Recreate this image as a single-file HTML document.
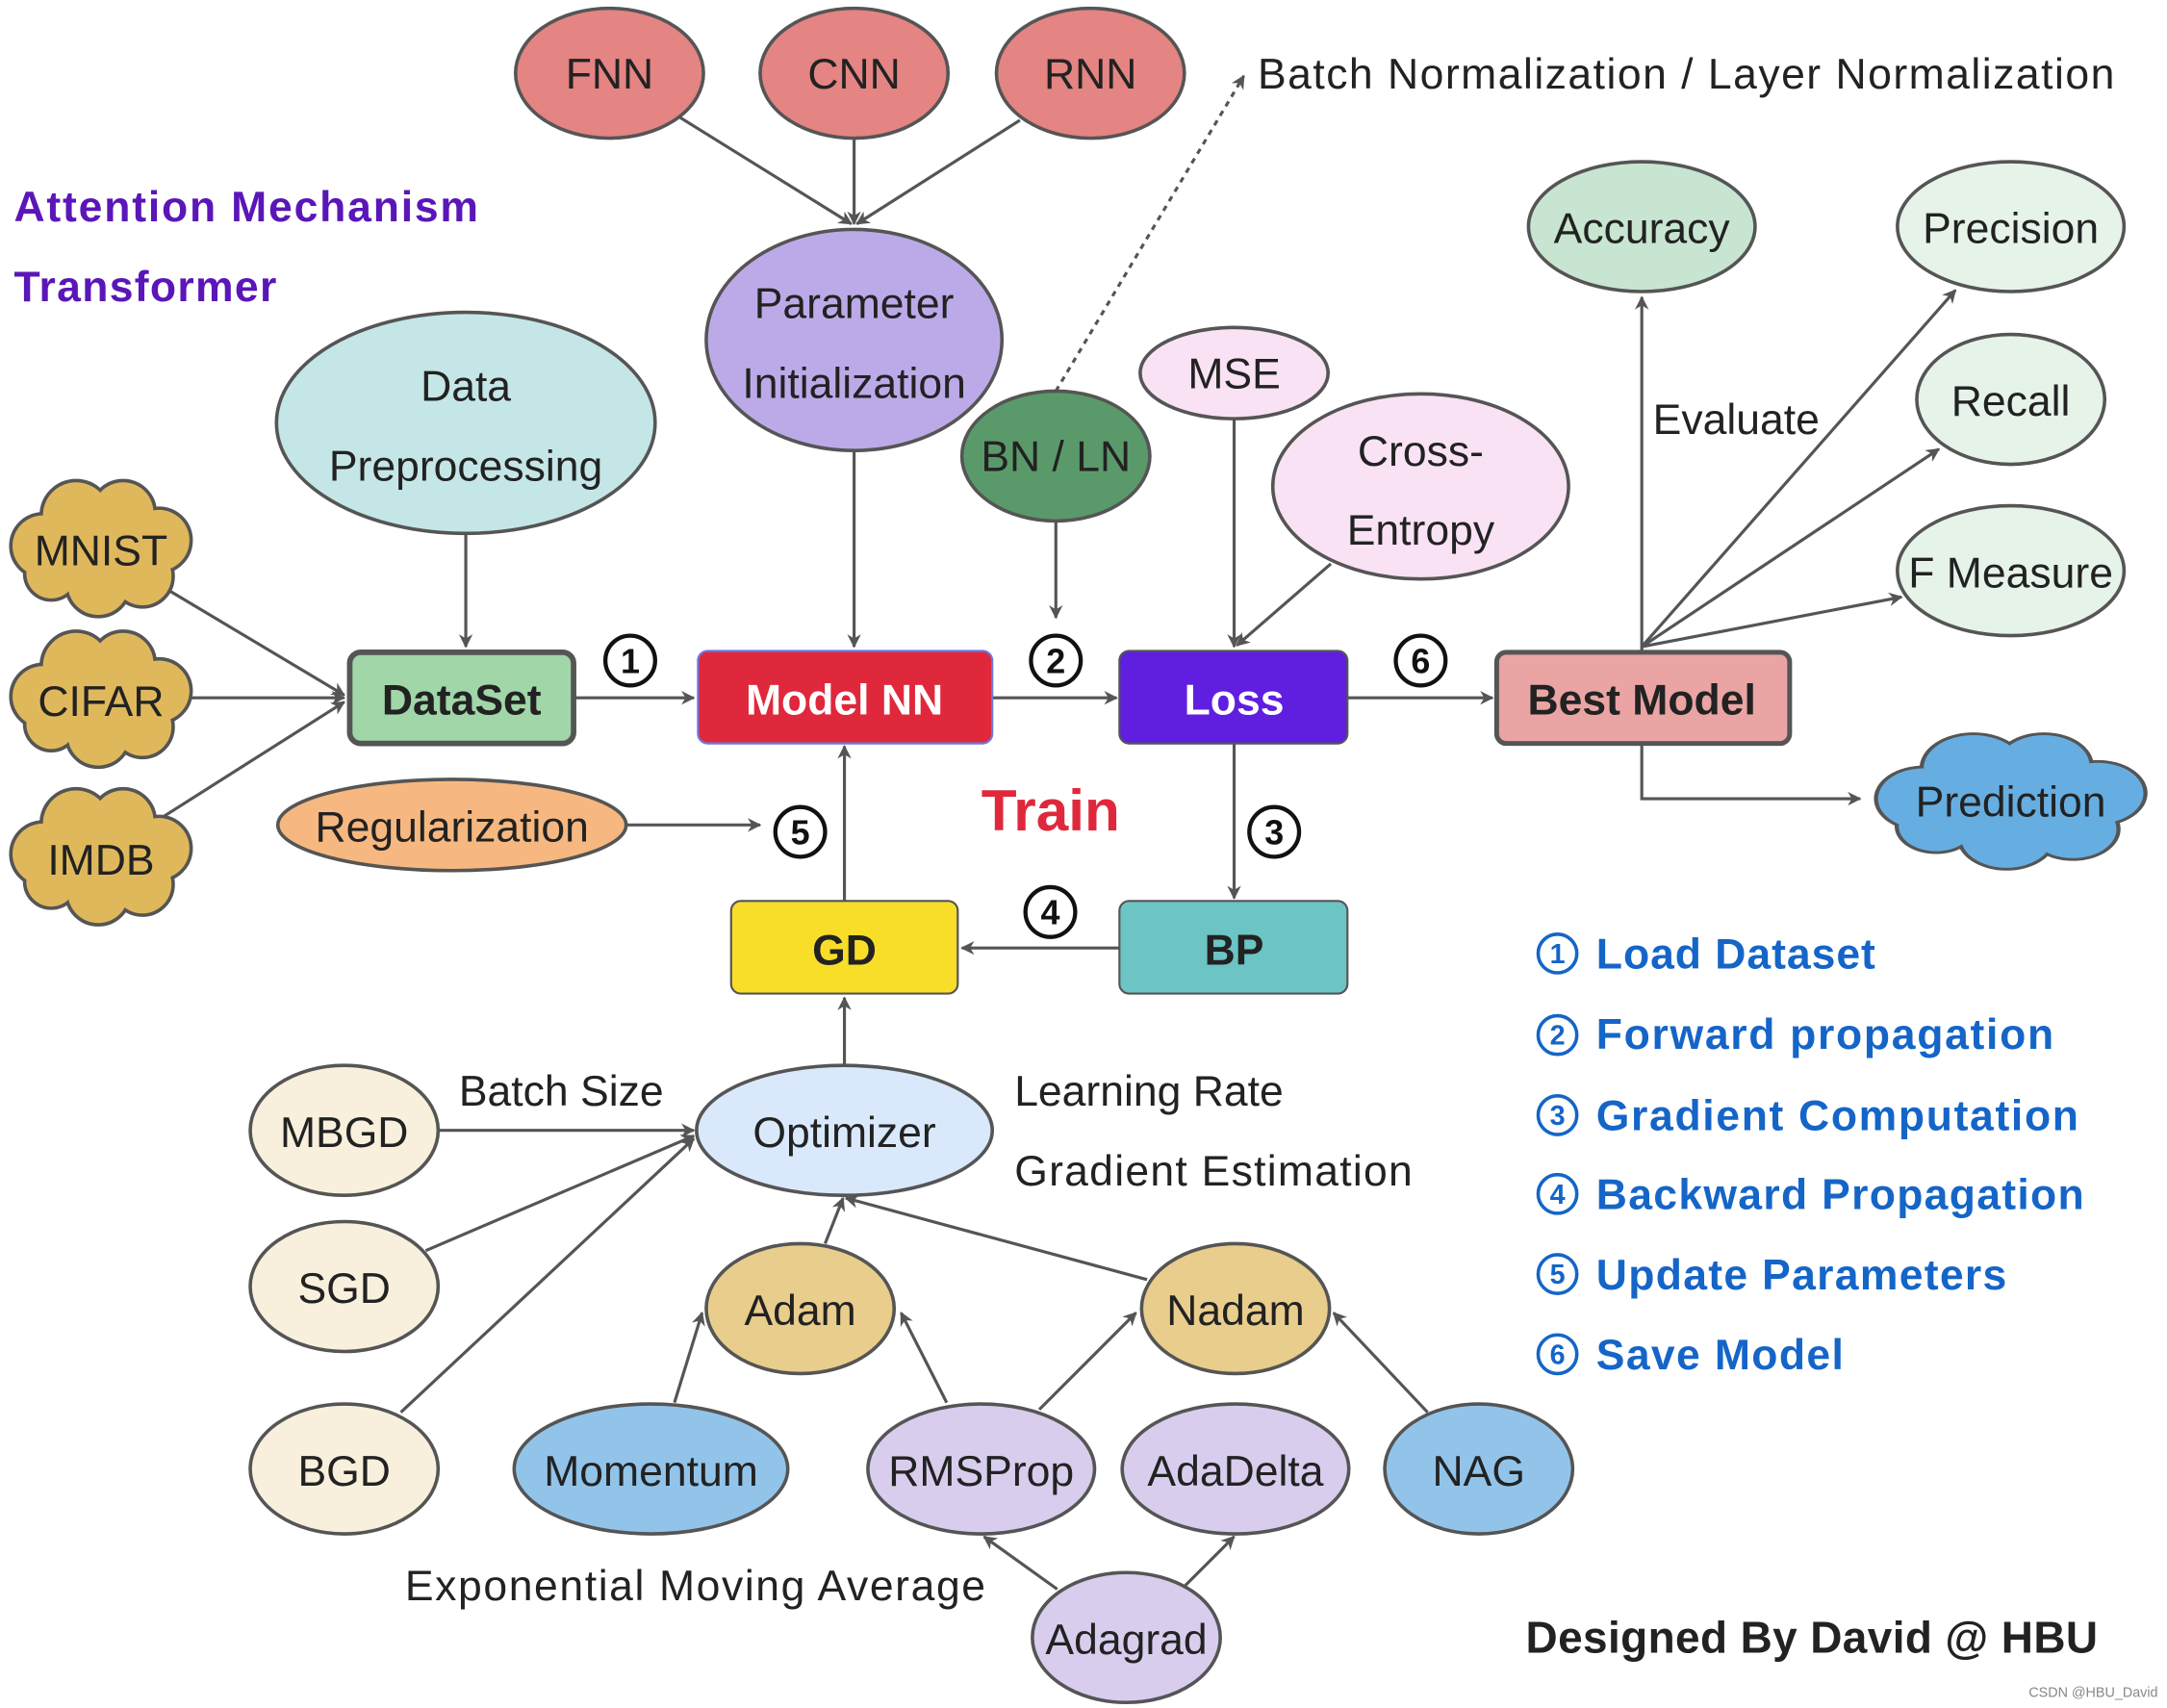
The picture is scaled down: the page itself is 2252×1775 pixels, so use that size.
<!DOCTYPE html>
<html><head><meta charset="utf-8"><style>
html,body{margin:0;padding:0;background:#fff;}
svg{display:block;}
text{font-family:"Liberation Sans","DejaVu Sans",sans-serif;}
</style></head><body>
<svg width="2252" height="1775" viewBox="0 0 1568 1236" xmlns="http://www.w3.org/2000/svg">
<defs>
<marker id="ah" markerWidth="10" markerHeight="10" refX="9" refY="5" orient="auto" markerUnits="userSpaceOnUse" viewBox="0 0 10 10">
<path d="M0,0 L10,5 L0,10 L3,5 z" fill="#555"/>
</marker>
<marker id="ah2" markerWidth="14" markerHeight="14" refX="13" refY="7" orient="auto" markerUnits="userSpaceOnUse" viewBox="0 0 14 14">
<path d="M0,0 L14,7 L0,14 L4,7 z" fill="#555"/>
</marker>
<g id="cloudO">
<circle cx="-42" cy="-2" r="22"/><circle cx="-18" cy="-24" r="24"/><circle cx="16" cy="-26" r="22"/><circle cx="42" cy="-6" r="22"/><circle cx="30" cy="20" r="21"/><circle cx="-2" cy="26" r="22"/><circle cx="-36" cy="18" r="18"/><circle cx="0" cy="0" r="30"/>
</g>
</defs>
<rect width="1568" height="1236" fill="#fff"/>

<!-- connectors -->
<g stroke="#555" stroke-width="2.2" fill="none" marker-end="url(#ah)">
<line x1="492" y1="85" x2="616" y2="162"/>
<line x1="618" y1="100" x2="618" y2="162"/>
<line x1="738" y1="87" x2="620" y2="162"/>
<line x1="618" y1="326" x2="618" y2="468"/>
<line x1="337" y1="386" x2="337" y2="468"/>
<line x1="120" y1="426" x2="249" y2="503"/>
<line x1="135" y1="505" x2="249" y2="505"/>
<line x1="115" y1="593" x2="249" y2="508"/>
<line x1="415" y1="505" x2="502" y2="505"/>
<line x1="718" y1="505" x2="808" y2="505"/>
<line x1="764" y1="377" x2="764" y2="447"/>
<line x1="893" y1="303" x2="893" y2="468"/>
<line x1="963" y1="408" x2="895" y2="467"/>
<line x1="975" y1="505" x2="1080" y2="505"/>
<line x1="893" y1="538" x2="893" y2="650"/>
<line x1="810" y1="686" x2="696" y2="686"/>
<line x1="611" y1="652" x2="611" y2="540"/>
<line x1="453" y1="597" x2="550" y2="597"/>
<line x1="611" y1="770" x2="611" y2="722"/>
<line x1="317" y1="818" x2="502" y2="818"/>
<line x1="308" y1="905" x2="502" y2="822"/>
<line x1="290" y1="1022" x2="502" y2="824"/>
<line x1="597" y1="900" x2="610" y2="867"/>
<line x1="830" y1="926" x2="612" y2="867"/>
<line x1="488" y1="1015" x2="508" y2="950"/>
<line x1="685" y1="1015" x2="652" y2="950"/>
<line x1="752" y1="1020" x2="822" y2="950"/>
<line x1="1033" y1="1022" x2="965" y2="950"/>
<line x1="765" y1="1150" x2="712" y2="1112"/>
<line x1="855" y1="1150" x2="893" y2="1112"/>
<line x1="1188" y1="472" x2="1188" y2="215"/>
<line x1="1188" y1="468" x2="1415" y2="210"/>
<line x1="1188" y1="468" x2="1403" y2="325"/>
<line x1="1188" y1="468" x2="1376" y2="432"/>
<polyline points="1188,538 1188,578 1346,578"/>
<line x1="764" y1="283" x2="900" y2="55" stroke-dasharray="4,4"/>
</g>

<!-- ellipses -->
<g stroke="#555" stroke-width="2.5">
<ellipse cx="441" cy="53" rx="68" ry="47" fill="#e48483"/>
<ellipse cx="618" cy="53" rx="68" ry="47" fill="#e48483"/>
<ellipse cx="789" cy="53" rx="68" ry="47" fill="#e48483"/>
<ellipse cx="618" cy="246" rx="107" ry="80" fill="#bcaae8"/>
<ellipse cx="337" cy="306" rx="137" ry="80" fill="#c5e6e6"/>
<ellipse cx="764" cy="330" rx="68" ry="47" fill="#5a9a6a"/>
<ellipse cx="893" cy="270" rx="68" ry="33" fill="#f8e2f4"/>
<ellipse cx="1028" cy="352" rx="107" ry="67" fill="#f8e2f4"/>
<ellipse cx="1188" cy="164" rx="82" ry="47" fill="#c7e5d0"/>
<ellipse cx="1455" cy="164" rx="82" ry="47" fill="#e6f3e9"/>
<ellipse cx="1455" cy="289" rx="68" ry="47" fill="#e6f3e9"/>
<ellipse cx="1455" cy="413" rx="82" ry="47" fill="#e6f3e9"/>
<ellipse cx="327" cy="597" rx="126" ry="33" fill="#f6b880"/>
<ellipse cx="249" cy="818" rx="68" ry="47" fill="#f8f0dc"/>
<ellipse cx="249" cy="931" rx="68" ry="47" fill="#f8f0dc"/>
<ellipse cx="249" cy="1063" rx="68" ry="47" fill="#f8f0dc"/>
<ellipse cx="611" cy="818" rx="107" ry="47" fill="#d9e9fb"/>
<ellipse cx="579" cy="947" rx="68" ry="47" fill="#e8cd8c"/>
<ellipse cx="894" cy="947" rx="68" ry="47" fill="#e8cd8c"/>
<ellipse cx="471" cy="1063" rx="99" ry="47" fill="#92c4ea"/>
<ellipse cx="710" cy="1063" rx="82" ry="47" fill="#d9cdee"/>
<ellipse cx="894" cy="1063" rx="82" ry="47" fill="#d9cdee"/>
<ellipse cx="1070" cy="1063" rx="68" ry="47" fill="#92c4ea"/>
<ellipse cx="815" cy="1185" rx="68" ry="47" fill="#d9cdee"/>
</g>

<!-- clouds -->
<g transform="translate(73,397)"><use href="#cloudO" fill="#e0b85c" stroke="#555" stroke-width="5"/><use href="#cloudO" fill="#e0b85c"/></g>
<g transform="translate(73,506)"><use href="#cloudO" fill="#e0b85c" stroke="#555" stroke-width="5"/><use href="#cloudO" fill="#e0b85c"/></g>
<g transform="translate(73,620)"><use href="#cloudO" fill="#e0b85c" stroke="#555" stroke-width="5"/><use href="#cloudO" fill="#e0b85c"/></g>
<g transform="translate(1455,580) scale(1.5,1.0)"><use href="#cloudO" fill="#66aee2" stroke="#555" stroke-width="4"/><use href="#cloudO" fill="#66aee2"/></g>

<!-- rects -->
<rect x="253" y="472" width="162" height="66" rx="8" fill="#a0d6a8" stroke="#555" stroke-width="4"/>
<rect x="505" y="471" width="213" height="67" rx="7" fill="#e0283c" stroke="#6a7ae0" stroke-width="1.5"/>
<rect x="810" y="471" width="165" height="67" rx="7" fill="#5f1ee0" stroke="#555" stroke-width="1.5"/>
<rect x="1083" y="472" width="212" height="66" rx="7" fill="#eaa4a4" stroke="#555" stroke-width="3.5"/>
<rect x="529" y="652" width="164" height="67" rx="7" fill="#f8de28" stroke="#555" stroke-width="1.5"/>
<rect x="810" y="652" width="165" height="67" rx="7" fill="#6cc4c4" stroke="#555" stroke-width="1.5"/>

<!-- node labels -->
<g font-size="31" fill="#222" text-anchor="middle">
<text x="441" y="64">FNN</text>
<text x="618" y="64">CNN</text>
<text x="789" y="64">RNN</text>
<text x="618" y="230">Parameter</text>
<text x="618" y="288">Initialization</text>
<text x="337" y="290">Data</text>
<text x="337" y="348">Preprocessing</text>
<text x="764" y="341">BN / LN</text>
<text x="893" y="281">MSE</text>
<text x="1028" y="337">Cross-</text>
<text x="1028" y="394">Entropy</text>
<text x="1188" y="176">Accuracy</text>
<text x="1455" y="176">Precision</text>
<text x="1455" y="301">Recall</text>
<text x="1455" y="425">F Measure</text>
<text x="327" y="609">Regularization</text>
<text x="249" y="830">MBGD</text>
<text x="249" y="943">SGD</text>
<text x="249" y="1075">BGD</text>
<text x="611" y="830">Optimizer</text>
<text x="579" y="959">Adam</text>
<text x="894" y="959">Nadam</text>
<text x="471" y="1075">Momentum</text>
<text x="710" y="1075">RMSProp</text>
<text x="894" y="1075">AdaDelta</text>
<text x="1070" y="1075">NAG</text>
<text x="815" y="1197">Adagrad</text>
<text x="73" y="409">MNIST</text>
<text x="73" y="518">CIFAR</text>
<text x="73" y="633">IMDB</text>
<text x="1455" y="591">Prediction</text>
</g>
<g font-size="31" font-weight="bold" text-anchor="middle">
<text x="334" y="517" fill="#222">DataSet</text>
<text x="611" y="517" fill="#fff">Model NN</text>
<text x="893" y="517" fill="#fff">Loss</text>
<text x="1188" y="517" fill="#222">Best Model</text>
<text x="611" y="698" fill="#222">GD</text>
<text x="893" y="698" fill="#222">BP</text>
</g>

<!-- step circles -->
<g stroke="#111" stroke-width="3" fill="#fff">
<circle cx="456" cy="478" r="18"/><circle cx="764" cy="478" r="18"/><circle cx="922" cy="602" r="18"/>
<circle cx="760" cy="660" r="18"/><circle cx="579" cy="602" r="18"/><circle cx="1028" cy="478" r="18"/>
</g>
<g font-size="25" font-weight="bold" fill="#111" text-anchor="middle">
<text x="456" y="487">1</text><text x="764" y="487">2</text><text x="922" y="611">3</text>
<text x="760" y="669">4</text><text x="579" y="611">5</text><text x="1028" y="487">6</text>
</g>

<!-- free text -->
<g font-size="31" fill="#222">
<text x="910" y="64" textLength="620">Batch Normalization / Layer Normalization</text>
<text x="1196" y="314">Evaluate</text>
<text x="332" y="800">Batch Size</text>
<text x="734" y="800">Learning Rate</text>
<text x="734" y="858" textLength="288">Gradient Estimation</text>
<text x="293" y="1158" textLength="420">Exponential Moving Average</text>
</g>
<g font-size="31" font-weight="bold" fill="#5a16b8">
<text x="10" y="160" textLength="336">Attention Mechanism</text>
<text x="10" y="218" textLength="190">Transformer</text>
</g>
<text x="710" y="601" font-size="42" font-weight="bold" fill="#e0283c">Train</text>

<!-- legend -->
<g stroke="#1565c8" stroke-width="2.5" fill="none">
<circle cx="1127" cy="690" r="14"/><circle cx="1127" cy="749" r="14"/><circle cx="1127" cy="807" r="14"/>
<circle cx="1127" cy="864" r="14"/><circle cx="1127" cy="922" r="14"/><circle cx="1127" cy="980" r="14"/>
</g>
<g font-size="20" font-weight="bold" fill="#1565c8" text-anchor="middle">
<text x="1127" y="697">1</text><text x="1127" y="756">2</text><text x="1127" y="814">3</text>
<text x="1127" y="871">4</text><text x="1127" y="929">5</text><text x="1127" y="987">6</text>
</g>
<g font-size="31" font-weight="bold" fill="#1565c8">
<text x="1155" y="701" textLength="202">Load Dataset</text>
<text x="1155" y="759" textLength="331">Forward propagation</text>
<text x="1155" y="818" textLength="349">Gradient Computation</text>
<text x="1155" y="875" textLength="353">Backward Propagation</text>
<text x="1155" y="933" textLength="297">Update Parameters</text>
<text x="1155" y="991" textLength="179">Save Model</text>
</g>
<text x="1104" y="1196" font-size="32" font-weight="bold" fill="#222" textLength="414">Designed By David @ HBU</text>
<text x="1468" y="1228" font-size="10" fill="#888">CSDN @HBU_David</text>
</svg>
</body></html>
